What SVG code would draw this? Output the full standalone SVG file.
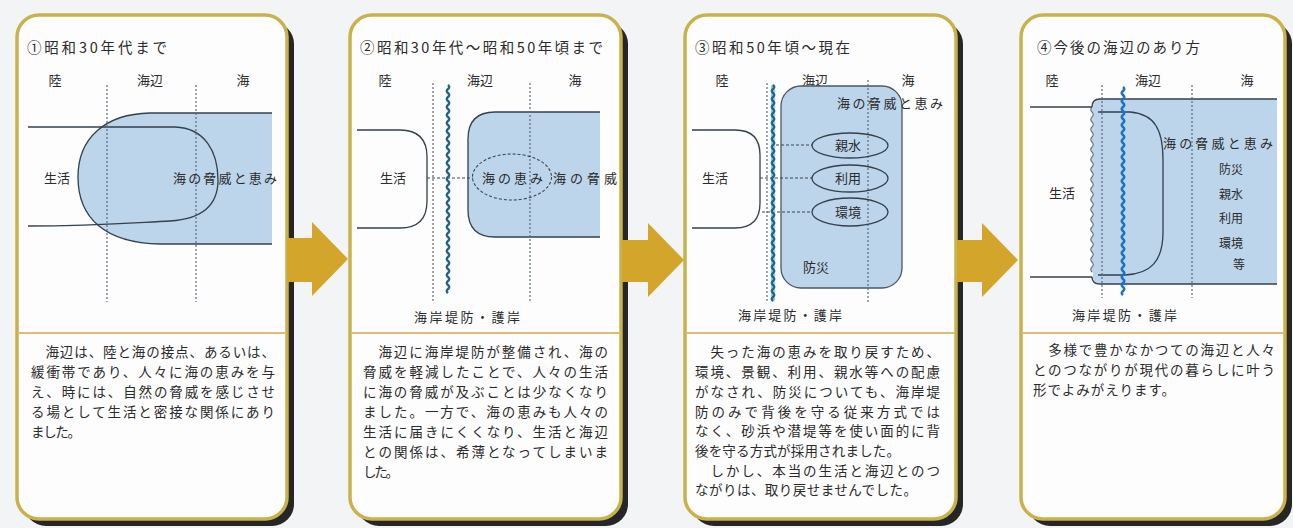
<svg xmlns="http://www.w3.org/2000/svg" width="1293" height="528" viewBox="0 0 1293 528">
<defs>
<style>
.t{font-family:'Noto Sans CJK JP','Noto Sans CJK SC',sans-serif;fill:#2b2b2b}
.title{font-size:14.5px}
.hdr{font-size:13px;text-anchor:middle}
.lbl{font-size:13px}
.mid{text-anchor:middle}
.sm{font-size:12px;text-anchor:middle}
.body{font-size:13.5px}
.panel{fill:#fdfdfd;stroke:#c9b24b;stroke-width:3.5}
.shadow{fill:#262626}
.div{stroke:#d6a34e;stroke-width:1.5}
.sea{fill:#bcd5eb}
.ol{fill:none;stroke:#34404c;stroke-width:1.3}
.dv{stroke:#5b6b80;stroke-width:1.2;stroke-dasharray:2 2}
.dh{stroke:#3b4652;stroke-width:1.1;stroke-dasharray:3 2;fill:none}
.wall{fill:none;stroke:#24638f;stroke-width:2.4}
.arrow{fill:#d3a52b}
</style>
<linearGradient id="ag" x1="0" y1="0" x2="0" y2="1">
<stop offset="0" stop-color="#dcb23a"/>
<stop offset="1" stop-color="#c89a20"/>
</linearGradient>
</defs>
<rect width="1293" height="528" fill="#f3f4f6"/>

<g id="panel1">
<rect class="shadow" x="24" y="22" width="270" height="504" rx="22"/>
<rect class="panel" x="17" y="15" width="270" height="504" rx="22"/>
<line class="div" x1="19" y1="333" x2="285" y2="333"/>
<text class="t title" x="27" y="53" textLength="140">①昭和30年代まで</text>
<text class="t hdr" x="55" y="85">陸</text>
<text class="t hdr" x="150" y="85">海辺</text>
<text class="t hdr" x="243" y="85">海</text>
<path class="sea" d="M272 113L150 113C105 114 78 138 78 177C78 218 105 243 160 244L272 244Z"/>
<path class="ol" d="M272 113L150 113C105 114 78 138 78 177C78 218 105 243 160 244L272 244"/>
<path class="ol" d="M28 127L175 127C205 128 218 152 218 180C218 205 203 219 170 221C130 223 95 226 28 226"/>
<line class="dv" x1="107" y1="85" x2="107" y2="302"/>
<line class="dv" x1="196" y1="85" x2="196" y2="302"/>
<text class="t lbl mid" x="57" y="183">生活</text>
<text class="t lbl" x="173" y="183" textLength="104">海の脅威と恵み</text>
<text class="t body" x="31" y="357" textLength="244">　海辺は、陸と海の接点、あるいは、</text>
<text class="t body" x="31" y="377" textLength="244">緩衝帯であり、人々に海の恵みを与</text>
<text class="t body" x="31" y="397" textLength="244">え、時には、自然の脅威を感じさせ</text>
<text class="t body" x="31" y="417" textLength="244">る場として生活と密接な関係にあり</text>
<text class="t body" x="31" y="437" textLength="50">ました。</text>
</g>

<g id="panel2">
<rect class="shadow" x="357" y="22" width="271" height="504" rx="22"/>
<rect class="panel" x="350" y="15" width="271" height="504" rx="22"/>
<line class="div" x1="352" y1="333" x2="619" y2="333"/>
<text class="t title" x="360" y="53" textLength="243">②昭和30年代～昭和50年頃まで</text>
<text class="t hdr" x="385" y="85">陸</text>
<text class="t hdr" x="480" y="85">海辺</text>
<text class="t hdr" x="575" y="85">海</text>
<path class="sea" d="M600 112L495 112Q468 112 468 139L468 210Q468 237 495 237L600 237Z"/>
<path class="ol" d="M600 112L495 112Q468 112 468 139L468 210Q468 237 495 237L600 237"/>
<path class="ol" d="M357 130L400 130Q427 130 427 157L427 201Q427 228 400 228L357 228"/>
<line class="dv" x1="433" y1="83" x2="433" y2="302"/>
<line class="dv" x1="530" y1="83" x2="530" y2="302"/>
<line class="dh" x1="427" y1="178" x2="473" y2="178"/>
<ellipse class="dh" cx="512" cy="177" rx="39.5" ry="23"/>
<path class="wall" d="M448 85q2.5 2 0 4t0 4t0 4t0 4t0 4t0 4t0 4t0 4t0 4t0 4t0 4t0 4t0 4t0 4t0 4t0 4t0 4t0 4t0 4t0 4t0 4t0 4t0 4t0 4t0 4t0 4t0 4t0 4t0 4t0 4t0 4t0 4t0 4t0 4t0 4t0 4t0 4t0 4t0 4t0 4t0 4t0 4t0 4t0 4t0 4t0 4t0 4t0 4t0 4t0 4t0 4t0 4"/>
<text class="t lbl mid" x="393" y="183">生活</text>
<text class="t lbl" x="482" y="183" textLength="61">海の恵み</text>
<text class="t lbl" x="553" y="183" textLength="64">海の脅威</text>
<text class="t lbl" x="414" y="322" textLength="106">海岸堤防・護岸</text>
<text class="t body" x="363" y="357" textLength="245">　海辺に海岸堤防が整備され、海の</text>
<text class="t body" x="363" y="377" textLength="245">脅威を軽減したことで、人々の生活</text>
<text class="t body" x="363" y="397" textLength="245">に海の脅威が及ぶことは少なくなり</text>
<text class="t body" x="363" y="417" textLength="245">ました。一方で、海の恵みも人々の</text>
<text class="t body" x="363" y="437" textLength="245">生活に届きにくくなり、生活と海辺</text>
<text class="t body" x="363" y="457" textLength="245">との関係は、希薄となってしまいま</text>
<text class="t body" x="363" y="477" textLength="36">した。</text>
</g>

<g id="panel3">
<rect class="shadow" x="692" y="22" width="271" height="504" rx="22"/>
<rect class="panel" x="685" y="15" width="271" height="504" rx="22"/>
<line class="div" x1="687" y1="333" x2="954" y2="333"/>
<text class="t title" x="695" y="53" textLength="155">③昭和50年頃～現在</text>
<text class="t hdr" x="722" y="85">陸</text>
<text class="t hdr" x="815" y="85">海辺</text>
<text class="t hdr" x="908" y="85">海</text>
<rect class="sea" x="781" y="86" width="121" height="202" rx="20" stroke="#4a5866" stroke-width="1.3"/>
<path class="ol" d="M692 130L735 130Q760 130 760 155L760 203Q760 228 735 228L692 228"/>
<line class="dv" x1="767" y1="83" x2="767" y2="302"/>
<line class="dv" x1="868" y1="80" x2="868" y2="302"/>
<line class="dh" x1="776" y1="145" x2="812" y2="145"/>
<line class="dh" x1="760" y1="178" x2="812" y2="178"/>
<line class="dh" x1="762" y1="212" x2="812" y2="212"/>
<ellipse class="ol" cx="850" cy="145.5" rx="38" ry="12.5"/>
<ellipse class="ol" cx="850" cy="178.5" rx="38" ry="13.5"/>
<ellipse class="ol" cx="850" cy="212" rx="38" ry="14"/>
<path fill="none" stroke="#86d3ea" stroke-width="2.2" d="M773 85q-2.5 2 0 4t0 4t0 4t0 4t0 4t0 4t0 4t0 4t0 4t0 4t0 4t0 4t0 4t0 4t0 4t0 4t0 4t0 4t0 4t0 4t0 4t0 4t0 4t0 4t0 4t0 4t0 4t0 4t0 4t0 4t0 4t0 4t0 4t0 4t0 4t0 4t0 4t0 4t0 4t0 4t0 4t0 4t0 4t0 4t0 4t0 4t0 4t0 4t0 4t0 4t0 4t0 4t0 4t0 4"/>
<path class="wall" stroke-width="2" d="M773 85q2.5 2 0 4t0 4t0 4t0 4t0 4t0 4t0 4t0 4t0 4t0 4t0 4t0 4t0 4t0 4t0 4t0 4t0 4t0 4t0 4t0 4t0 4t0 4t0 4t0 4t0 4t0 4t0 4t0 4t0 4t0 4t0 4t0 4t0 4t0 4t0 4t0 4t0 4t0 4t0 4t0 4t0 4t0 4t0 4t0 4t0 4t0 4t0 4t0 4t0 4t0 4t0 4t0 4t0 4t0 4"/>
<text class="t lbl mid" x="715" y="183">生活</text>
<text class="t lbl" x="837" y="108" textLength="106">海の脅威と恵み</text>
<text class="t lbl mid" x="848" y="150">親水</text>
<text class="t lbl mid" x="848" y="183">利用</text>
<text class="t lbl mid" x="848" y="217">環境</text>
<text class="t lbl mid" x="816" y="272">防災</text>
<text class="t lbl" x="738" y="320" textLength="104">海岸堤防・護岸</text>
<text class="t body" x="695" y="357" textLength="245">　失った海の恵みを取り戻すため、</text>
<text class="t body" x="695" y="377" textLength="245">環境、景観、利用、親水等への配慮</text>
<text class="t body" x="695" y="397" textLength="245">がなされ、防災についても、海岸堤</text>
<text class="t body" x="695" y="417" textLength="245">防のみで背後を守る従来方式では</text>
<text class="t body" x="695" y="436" textLength="245">なく、砂浜や潜堤等を使い面的に背</text>
<text class="t body" x="695" y="456" textLength="205">後を守る方式が採用されました。</text>
<text class="t body" x="695" y="476" textLength="245">　しかし、本当の生活と海辺とのつ</text>
<text class="t body" x="695" y="495" textLength="222">ながりは、取り戻せませんでした。</text>
</g>

<g id="panel4">
<rect class="shadow" x="1028" y="22" width="264" height="504" rx="22"/>
<rect class="panel" x="1021" y="15" width="264" height="504" rx="22"/>
<line class="div" x1="1023" y1="333" x2="1283" y2="333"/>
<text class="t title" x="1037" y="53" textLength="163">④今後の海辺のあり方</text>
<text class="t hdr" x="1052" y="85">陸</text>
<text class="t hdr" x="1148" y="85">海辺</text>
<text class="t hdr" x="1247" y="85">海</text>
<path class="sea" d="M1277 99L1100 99Q1092 99 1092 107q-2.5 2.5 0 5t0 5t0 5t0 5t0 5t0 5t0 5t0 5t0 5t0 5t0 5t0 5t0 5t0 5t0 5t0 5t0 5t0 5t0 5t0 5t0 5t0 5t0 5t0 5t0 5t0 5t0 5t0 5t0 5t0 5t0 5t0 5t0 5t0 5Q1092 284 1100 284L1277 284Z"/>
<path fill="none" stroke="#6b7480" stroke-width="1.1" d="M1092 107q-2.5 2.5 0 5t0 5t0 5t0 5t0 5t0 5t0 5t0 5t0 5t0 5t0 5t0 5t0 5t0 5t0 5t0 5t0 5t0 5t0 5t0 5t0 5t0 5t0 5t0 5t0 5t0 5t0 5t0 5t0 5t0 5t0 5t0 5t0 5"/>
<path class="ol" d="M1092 107Q1092 99 1100 99L1277 99M1092 277Q1092 284 1100 284L1277 284M1030 107L1092 107M1030 277L1092 277"/>
<path class="ol" d="M1098 112L1130 112C1155 114 1163 130 1163 160L1163 232C1163 262 1150 274 1125 275L1098 275"/>
<line class="dv" x1="1102" y1="85" x2="1102" y2="298"/>
<line class="dv" x1="1192" y1="85" x2="1192" y2="298"/>
<path fill="none" stroke="#1a73c4" stroke-width="2.6" d="M1123 87q2.5 2 0 4t0 4t0 4t0 4t0 4t0 4t0 4t0 4t0 4t0 4t0 4t0 4t0 4t0 4t0 4t0 4t0 4t0 4t0 4t0 4t0 4t0 4t0 4t0 4t0 4t0 4t0 4t0 4t0 4t0 4t0 4t0 4t0 4t0 4t0 4t0 4t0 4t0 4t0 4t0 4t0 4t0 4t0 4t0 4t0 4t0 4t0 4t0 4t0 4t0 4t0 4t0 4"/>
<text class="t lbl mid" x="1062" y="198">生活</text>
<text class="t lbl" x="1163" y="148" textLength="110">海の脅威と恵み</text>
<text class="t sm" x="1231" y="174">防災</text>
<text class="t sm" x="1231" y="199">親水</text>
<text class="t sm" x="1231" y="223">利用</text>
<text class="t sm" x="1231" y="248">環境</text>
<text class="t sm" x="1239" y="269">等</text>
<text class="t lbl" x="1072" y="320" textLength="105">海岸堤防・護岸</text>
<text class="t body" x="1033" y="355" textLength="242">　多様で豊かなかつての海辺と人々</text>
<text class="t body" x="1033" y="375" textLength="242">とのつながりが現代の暮らしに叶う</text>
<text class="t body" x="1033" y="395" textLength="142">形でよみがえります。</text>
</g>

<g id="connectors">
<polygon class="arrow" fill="url(#ag)" points="287,238 312,238 312,222 348,259 312,296 312,282 287,282"/>
<polygon class="arrow" fill="url(#ag)" points="622,240 648,240 648,223 684,260 648,297 648,282 622,282"/>
<polygon class="arrow" fill="url(#ag)" points="957,240 982,240 982,223 1018,260 982,297 982,282 957,282"/>
</g>
</svg>
